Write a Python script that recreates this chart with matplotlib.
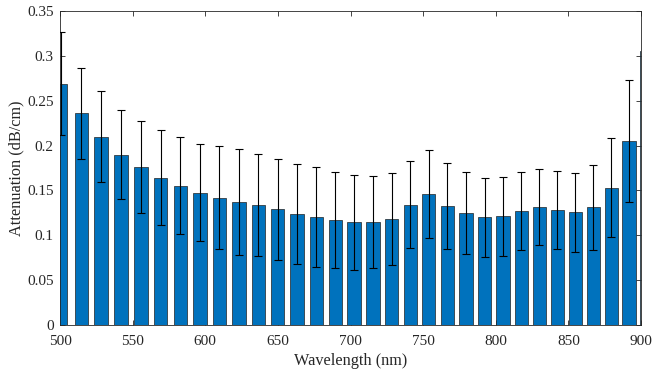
import numpy as np
import matplotlib
matplotlib.use('Agg')
import matplotlib.pyplot as plt

# wavelength bins (nm), mean attenuation and its spread (dB/cm)
wavelength = [500.5, 514.6, 528.3, 542.0, 555.7, 569.3, 582.8, 596.3, 609.8, 623.2,
              636.6, 649.9, 663.2, 676.5, 689.5, 702.4, 715.4, 728.3, 741.1, 753.9,
              766.7, 779.5, 792.3, 805.0, 817.6, 830.1, 842.5, 854.9, 867.2, 879.5,
              891.8, 904.0]
attenuation = [0.269, 0.236, 0.210, 0.190, 0.176, 0.164, 0.155, 0.1475, 0.142, 0.137,
               0.134, 0.129, 0.124, 0.120, 0.117, 0.1145, 0.1145, 0.118, 0.134, 0.1465,
               0.133, 0.125, 0.120, 0.121, 0.127, 0.1315, 0.1285, 0.1255, 0.131, 0.153,
               0.205, 0.305]
spread = [0.0575, 0.051, 0.051, 0.050, 0.051, 0.053, 0.054, 0.054, 0.057, 0.059,
          0.057, 0.056, 0.056, 0.0556, 0.054, 0.053, 0.0515, 0.051, 0.0485, 0.049,
          0.048, 0.046, 0.044, 0.0445, 0.0437, 0.042, 0.0437, 0.044, 0.047, 0.0554,
          0.068, 0.070]

plt.rcParams['font.family'] = ['Liberation Serif', 'DejaVu Serif']

fig = plt.figure(figsize=(6.53, 3.70), dpi=100)
ax = fig.add_axes([60 / 653, 45 / 370, 581 / 653, 314 / 370])

ax.bar(wavelength, attenuation, width=9.2, color='#0072BD',
       edgecolor='#222222', linewidth=0.5, zorder=2)
ax.errorbar(wavelength, attenuation, yerr=spread, fmt='none', ecolor='black',
            elinewidth=0.8, capsize=3.2, capthick=0.8, zorder=3)

ax.set_xlim(500, 900)
ax.set_ylim(0, 0.35)
ax.set_xticks(np.arange(500, 901, 50))
ax.set_yticks(np.arange(0, 0.351, 0.05))
ax.set_yticklabels(['0', '0.05', '0.1', '0.15', '0.2', '0.25', '0.3', '0.35'])

for s in ax.spines.values():
    s.set_color('#262626')
    s.set_linewidth(0.6)
ax.tick_params(axis='both', direction='in', length=3.5, width=0.6, color='#262626',
               labelsize=11, labelcolor='#262626', top=True, right=True)
ax.tick_params(axis='x', pad=7)
ax.tick_params(axis='y', pad=4.5)

ax.set_xlabel('Wavelength (nm)', fontsize=11.7, color='#262626', labelpad=3.5)
ax.set_ylabel('Attenuation (dB/cm)', fontsize=11.7, color='#262626', labelpad=2)

fig.savefig('out.png', dpi=100)
